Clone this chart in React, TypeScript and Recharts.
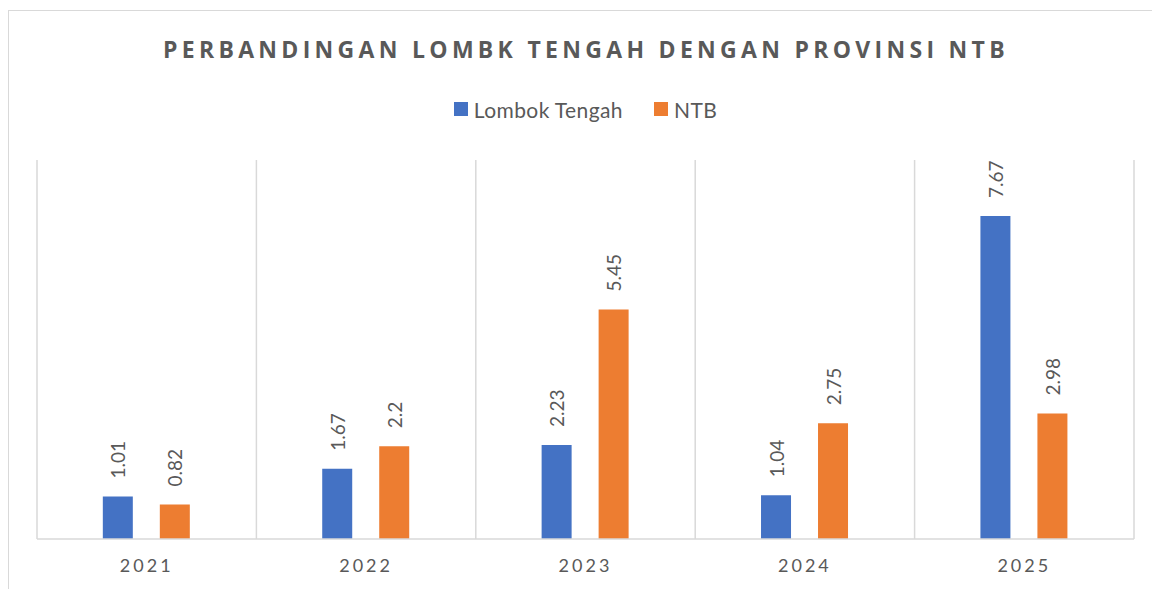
import { BarChart, Bar, XAxis, YAxis, CartesianGrid, Legend, LabelList } from 'recharts'

const YEARS = ['2021', '2022', '2023', '2024', '2025']
const LOMBOK_TENGAH = [1.01, 1.67, 2.23, 1.04, 7.67]
const NTB = [0.82, 2.2, 5.45, 2.75, 2.98]
const GRID_TICKS = [0, 1, 2, 3, 4, 5]

const data = YEARS.map((year, i) => ({ year, idx: i + 0.5, lt: LOMBOK_TENGAH[i], ntb: NTB[i] }))

const TEXT = '#595959'
const GRID = '#d9d9d9'
const BODY_FONT = 'Lato, "Open Sans", sans-serif'

function RotLabel(props: any) {
  const { x, y, width, value } = props
  const cx = x + width / 2
  const ty = y - 18
  return (
    <text x={cx} y={ty} transform={`rotate(-90 ${cx} ${ty})`} textAnchor="start" dominantBaseline="central"
      fill={TEXT} fontSize={19} fontFamily={BODY_FONT}>
      {value}
    </text>
  )
}

function LegendBox({ payload }: any) {
  return (
    <div style={{ display: 'flex', justifyContent: 'center', gap: 31, fontFamily: BODY_FONT, fontSize: 21, letterSpacing: 0.4, color: TEXT, height: 30, alignItems: 'center' }}>
      {payload.map((p: any) => (
        <span key={p.value} style={{ display: 'flex', alignItems: 'center' }}>
          <span style={{ width: 14, height: 14, background: p.color, marginRight: 6 }} />
          {p.value}
        </span>
      ))}
    </div>
  )
}

export default function App() {
  return (
    <div style={{ position: 'relative', width: 1152, height: 579, marginTop: 2, borderLeft: `1px solid ${GRID}`, borderTop: `1px solid ${GRID}`, background: '#fff' }}>
      <div style={{ position: 'absolute', top: 22, left: -3, width: 1160, textAlign: 'center', fontFamily: '"Open Sans", sans-serif', fontWeight: 700, fontSize: 23, letterSpacing: 4.3, color: TEXT }}>
        PERBANDINGAN LOMBK TENGAH DENGAN PROVINSI NTB
      </div>
      <BarChart width={1152} height={579} data={data} margin={{ top: 119, right: 27, left: 28, bottom: 0 }}
        barCategoryGap="30%" barGap={27}>
        <CartesianGrid xAxisId="grid" horizontal={false} stroke={GRID} strokeWidth={1.5} />
        <XAxis xAxisId="grid" type="number" dataKey="idx" domain={[0, 5]} ticks={GRID_TICKS} hide />
        <XAxis dataKey="year" height={51} stroke={GRID} strokeWidth={1.5} tickLine={false}
          tick={{ fill: TEXT, fontSize: 18, fontFamily: BODY_FONT, letterSpacing: 3 }} tickMargin={14} />
        <YAxis domain={[0, 9]} hide />
        <Legend verticalAlign="top" align="center" content={<LegendBox />} wrapperStyle={{ top: 83 }} />
        <Bar dataKey="lt" name="Lombok Tengah" fill="#4472C4" isAnimationActive={false}>
          <LabelList dataKey="lt" content={<RotLabel />} />
        </Bar>
        <Bar dataKey="ntb" name="NTB" fill="#ED7D31" isAnimationActive={false}>
          <LabelList dataKey="ntb" content={<RotLabel />} />
        </Bar>
      </BarChart>
    </div>
  )
}
